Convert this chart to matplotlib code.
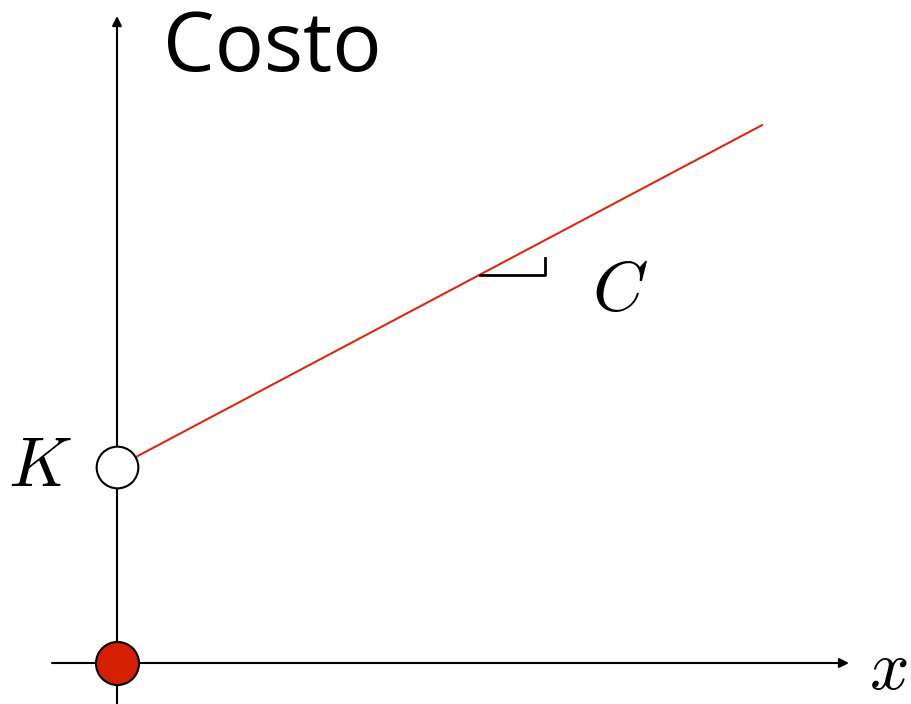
import matplotlib
matplotlib.use("Agg")
import matplotlib.pyplot as plt

plt.rcParams['mathtext.fontset'] = 'cm'

# cost model: cost = K + C * x  (units of 100 px)
K = 1.96
C = 0.53
x_line = [0.0, 6.45]
cost_line = [K + C * v for v in x_line]

# zero-production point
x_zero = [0.0]
cost_zero = [0.0]

red = '#d92a10'

fig = plt.figure(figsize=(9.11, 7.04), dpi=100)
ax = fig.add_axes([0, 0, 1, 1])
ax.set_xlim(-1.17, 7.94)
ax.set_ylim(-0.41, 6.63)
ax.axis('off')

# axes with arrows
ax.annotate('', xy=(7.32, 0), xytext=(-0.65, 0),
            arrowprops=dict(arrowstyle='-|>', color='black', lw=1.5,
                            mutation_scale=14, shrinkA=0, shrinkB=0))
ax.annotate('', xy=(0, 6.47), xytext=(0, -0.41),
            arrowprops=dict(arrowstyle='-|>', color='black', lw=1.5,
                            mutation_scale=14, shrinkA=0, shrinkB=0))

# cost line
ax.plot(x_line, cost_line, color=red, lw=1.5, zorder=2)

# slope marker
x0 = 3.63
y0 = K + C * x0
ax.plot([x0, x0 + 0.65, x0 + 0.65], [y0, y0, y0 + 0.17], color='black', lw=2, zorder=2)

# points
ax.plot([0], [K], 'o', ms=30, mfc='white', mec='black', mew=1.5, zorder=3)
ax.plot(x_zero, cost_zero, 'o', ms=31, mfc='#d42000', mec='black', mew=1.5, zorder=3)

# labels
ax.text(-0.77, K, r'$K$', fontsize=50, ha='center', va='center')
ax.text(5.03, 3.72, r'$C$', fontsize=51, ha='center', va='center')
ax.text(7.71, -0.06, r'$x$', fontsize=50, ha='center', va='center')
ax.text(0.455, 6.13, 'Costo', fontsize=59, family='Open Sans', ha='left', va='center')

fig.savefig('out.png', dpi=100)
